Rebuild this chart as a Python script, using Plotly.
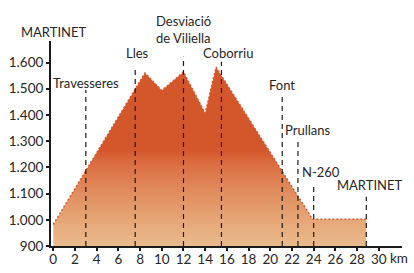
import plotly.graph_objects as go

# Elevation profile
profile_km = [0, 4.0, 8.45, 10.0, 12.0, 14.0, 15.0, 23.9, 28.85]
profile_elev = [982, 1258, 1560, 1493, 1564, 1406, 1582, 1002, 1002]

# Waypoint markers (dashed lines)
marker_km = [3.0, 7.55, 12.0, 15.5, 21.1, 22.55, 24.0, 28.85]
marker_top = [1495, 1572, 1622, 1603, 1476, 1305, 1133, 1088]

# Labels
label_text = ["MARTINET", "Travesseres", "Lles", "Desviació", "de Viliella",
              "Coborriu", "Font", "Prullans", "N-260", "MARTINET"]
label_km = [0.05, 3.0, 7.75, 12.0, 12.0, 16.1, 21.1, 23.5, 24.7, 29.1]
label_elev = [1718, 1521, 1635, 1757, 1693, 1635, 1515, 1343, 1184, 1133]

x_ticks = list(range(0, 31, 2))
y_ticks = [900, 1000, 1100, 1200, 1300, 1400, 1500, 1600]
y_ticktext = ["900", "1.000", "1.100", "1.200", "1.300", "1.400", "1.500", "1.600"]

Y_MIN, Y_MAX = 900, 1682

FONT = "Lato, Liberation Sans, sans-serif"
TXT = "#262626"

fig = go.Figure()

fig.add_trace(go.Scatter(
    x=profile_km, y=profile_elev, mode="lines",
    line=dict(color="#d9582c", width=1.5, dash="2px,2px"),
    fill="tozeroy",
    fillgradient=dict(type="vertical", start=900, stop=1265,
                      colorscale=[[0, "#eabb8d"], [0.3, "#e6a474"],
                                  [0.6, "#e0895b"], [0.88, "#da6b3e"],
                                  [1, "#d4562b"]]),
    hoverinfo="skip", showlegend=False,
))

for km, top in zip(marker_km, marker_top):
    fig.add_trace(go.Scatter(
        x=[km, km], y=[900, top], mode="lines",
        line=dict(color="#1f1a18", width=1.2, dash="5px,4px"),
        hoverinfo="skip", showlegend=False,
    ))

for t, km, el in zip(label_text, label_km, label_elev):
    fig.add_annotation(x=km, y=(el - Y_MIN) / (Y_MAX - Y_MIN), xref="x", yref="paper",
                       text=t, showarrow=False,
                       font=dict(family=FONT, size=13, color=TXT),
                       xanchor="center", yanchor="middle")

fig.add_annotation(x=31.9, y=0, xref="x", yref="paper", text="km", showarrow=False,
                   font=dict(family=FONT, size=13.5, color=TXT),
                   xanchor="center", yanchor="middle", yshift=-12)

axis_font = dict(family=FONT, size=13.5, color=TXT)
fig.update_xaxes(range=[-0.21, 32.14], tickvals=x_ticks, ticks="outside",
                 ticklen=3, tickwidth=2, tickcolor="#1a1a1a",
                 showline=True, linecolor="#1a1a1a", linewidth=2,
                 showgrid=False, zeroline=False, automargin=False,
                 ticklabelstandoff=-3, tickfont=axis_font)
fig.update_yaxes(range=[Y_MIN, Y_MAX], tickvals=y_ticks, ticktext=y_ticktext,
                 ticks="outside", ticklen=3, tickwidth=2, tickcolor="#1a1a1a",
                 showline=True, linecolor="#1a1a1a", linewidth=2,
                 showgrid=False, zeroline=False, automargin=False,
                 tickfont=axis_font)

fig.update_layout(width=414, height=273,
                  margin=dict(l=51, r=12, t=41, b=27),
                  paper_bgcolor="white", plot_bgcolor="white")

fig.write_html("out.html")
